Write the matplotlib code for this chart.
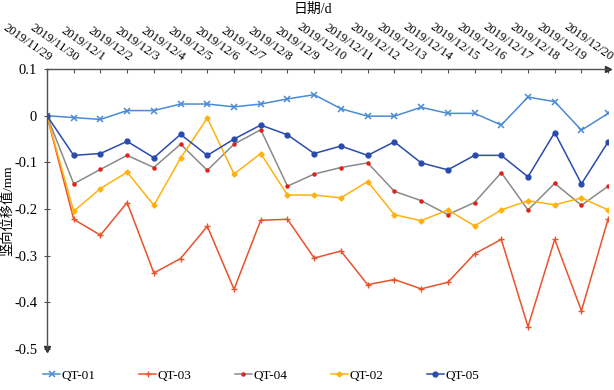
import matplotlib
matplotlib.use("Agg")
import matplotlib.pyplot as plt

dates = ["2019/11/29", "2019/11/30", "2019/12/1", "2019/12/2", "2019/12/3", "2019/12/4",
         "2019/12/5", "2019/12/6", "2019/12/7", "2019/12/8", "2019/12/9", "2019/12/10",
         "2019/12/11", "2019/12/12", "2019/12/13", "2019/12/14", "2019/12/15", "2019/12/16",
         "2019/12/17", "2019/12/18", "2019/12/19", "2019/12/20"]

qt01 = [0, -0.004, -0.008, 0.011, 0.011, 0.025, 0.025, 0.019, 0.025, 0.036, 0.045,
        0.015, -0.001, -0.001, 0.018, 0.005, 0.005, -0.02, 0.04, 0.03, -0.031, 0.005]
qt03 = [0, -0.222, -0.256, -0.186, -0.337, -0.306, -0.237, -0.372, -0.224, -0.222, -0.305,
        -0.29, -0.362, -0.351, -0.371, -0.357, -0.296, -0.265, -0.452, -0.265, -0.418, -0.221]
qt04 = [0, -0.146, -0.115, -0.085, -0.111, -0.061, -0.117, -0.061, -0.03, -0.151, -0.125,
        -0.111, -0.101, -0.162, -0.182, -0.212, -0.186, -0.122, -0.202, -0.145, -0.192, -0.151]
qt02 = [0, -0.205, -0.156, -0.121, -0.192, -0.091, -0.005, -0.125, -0.081, -0.17, -0.17,
        -0.176, -0.141, -0.212, -0.225, -0.202, -0.236, -0.202, -0.182, -0.191, -0.176, -0.202]
qt05 = [0, -0.085, -0.081, -0.055, -0.09, -0.04, -0.085, -0.05, -0.02, -0.041, -0.081,
        -0.065, -0.085, -0.056, -0.101, -0.116, -0.085, -0.085, -0.131, -0.036, -0.146, -0.056]

yticks = [0.1, 0, -0.1, -0.2, -0.3, -0.4, -0.5]
ytick_labels = ["0.1", "0", "-0.1", "-0.2", "-0.3", "-0.4", "-0.5"]

SERIF = "Liberation Serif"
MIX = ["Liberation Serif", "Noto Sans CJK SC"]
plt.rcParams["font.family"] = MIX

fig = plt.figure(figsize=(6.14, 3.9), dpi=100)
ax = fig.add_axes([0.0765, 0.105, 0.914, 0.718])

x = list(range(len(dates)))
ax.plot(x, qt01, color="#4A8BD6", lw=1.1, marker="x", ms=4, mew=1.1, label="QT-01")
ax.plot(x, qt03, color="#E8532B", lw=1.1, marker="+", ms=5, mew=1.0, label="QT-03")
ax.plot(x, qt04, color="#8A8A8A", lw=1.1, marker="o", ms=2.2, mfc="#E0201B", mec="#E0201B",
        label="QT-04")
ax.plot(x, qt02, color="#FFB20F", lw=1.1, marker="D", ms=2.6, label="QT-02")
ax.plot(x, qt05, color="#2A4BAE", lw=1.1, marker="o", ms=3.5, label="QT-05")

ax.set_xlim(0, 21)
ax.set_ylim(-0.5, 0.1)

ax.spines["right"].set_visible(False)
ax.spines["bottom"].set_visible(False)
for s in ("left", "top"):
    ax.spines[s].set_color("#505050")
    ax.spines[s].set_linewidth(1.0)

ax.xaxis.tick_top()
ax.set_xticks(x)
ax.set_xticklabels(dates, rotation=-35, ha="right", va="bottom",
                   rotation_mode="anchor", fontsize=9, family=SERIF)
ax.tick_params(axis="x", direction="in", length=3, pad=4, color="#505050")
ax.set_yticks(yticks)
ax.set_yticklabels(ytick_labels, fontsize=10.5, family=SERIF)
ax.tick_params(axis="y", direction="inout", length=4, pad=5, color="#505050")

# axis arrows
ax.plot(1, 1, marker=">", color="#303030", ms=4, transform=ax.transAxes, clip_on=False)
ax.plot(0, 0, marker="v", color="#303030", ms=4, transform=ax.transAxes, clip_on=False)

fig.text(0.51, 0.977, "日期/d", ha="center", va="center", fontsize=10)
fig.text(0.013, 0.46, "竖向位移值/mm", rotation=90, ha="center", va="center", fontsize=9.5)

ax.legend(loc="center", bbox_to_anchor=(0.425, 0.036), bbox_transform=fig.transFigure,
          ncol=5, frameon=False, handlelength=1.3, handletextpad=0.1,
          columnspacing=3.3, prop={"family": SERIF, "size": 9.5})

fig.savefig("out.png", dpi=100)
